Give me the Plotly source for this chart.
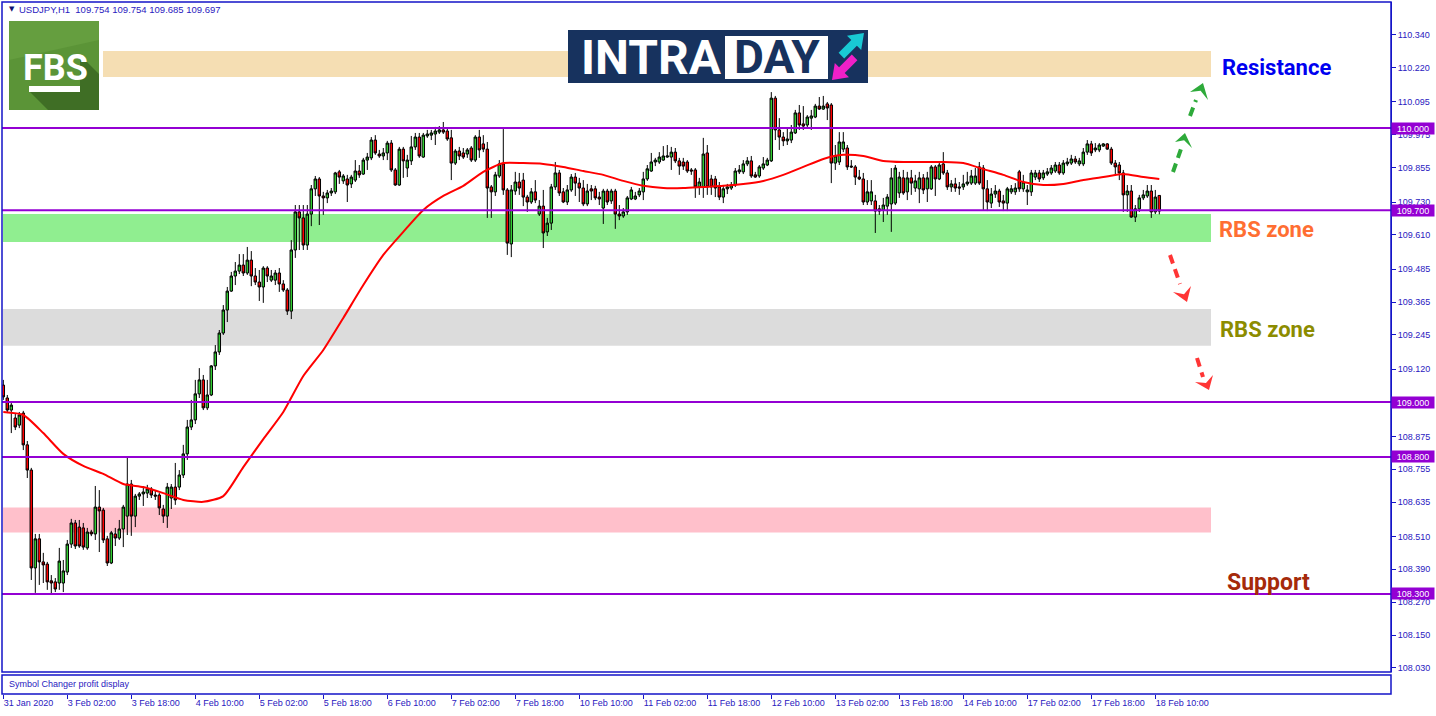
import plotly.graph_objects as go

# ---------------- data (USDJPY H1) ----------------
opens = [109.062, 109.015, 108.971, 108.942, 108.916, 108.960, 108.844, 108.752, 108.395, 108.501,
 108.417, 108.409, 108.348, 108.344, 108.340, 108.340, 108.380, 108.482, 108.559, 108.544,
 108.541, 108.468, 108.526, 108.519, 108.617, 108.606, 108.501, 108.413, 108.519, 108.504,
 108.537, 108.584, 108.701, 108.584, 108.657, 108.665, 108.668, 108.683, 108.661, 108.661,
 108.610, 108.584, 108.650, 108.690, 108.690, 108.734, 108.811, 108.909, 108.935, 109.030,
 109.081, 108.979, 109.026, 109.132, 109.183, 109.252, 109.336, 109.405, 109.460, 109.478,
 109.500, 109.471, 109.518, 109.460, 109.438, 109.420, 109.489, 109.445, 109.445, 109.471,
 109.431, 109.409, 109.332, 109.555, 109.694, 109.672, 109.573, 109.686, 109.778, 109.814,
 109.752, 109.745, 109.763, 109.767, 109.840, 109.807, 109.814, 109.796, 109.810, 109.843,
 109.832, 109.883, 109.891, 109.956, 109.905, 109.898, 109.909, 109.945, 109.847, 109.792,
 109.923, 109.854, 109.880, 109.931, 109.967, 109.894, 109.971, 109.974, 109.978, 109.985,
 109.993, 109.989, 109.964, 109.872, 109.916, 109.909, 109.905, 109.927, 109.883, 109.967,
 109.942, 109.923, 109.785, 109.767, 109.825, 109.869, 109.774, 109.577, 109.770, 109.803,
 109.810, 109.748, 109.730, 109.767, 109.686, 109.715, 109.621, 109.653, 109.785, 109.836,
 109.767, 109.730, 109.774, 109.821, 109.799, 109.781, 109.723, 109.778, 109.778, 109.748,
 109.708, 109.770, 109.734, 109.770, 109.686, 109.679, 109.694, 109.741, 109.741, 109.756,
 109.767, 109.814, 109.843, 109.876, 109.876, 109.883, 109.894, 109.894, 109.912, 109.880,
 109.876, 109.876, 109.847, 109.847, 109.785, 109.785, 109.909, 109.814, 109.814, 109.785,
 109.748, 109.778, 109.781, 109.792, 109.840, 109.840, 109.869, 109.880, 109.829, 109.825,
 109.854, 109.865, 109.880, 110.109, 109.993, 109.967, 109.953, 109.956, 109.982, 110.055,
 110.015, 110.011, 110.036, 110.040, 110.080, 110.069, 110.088, 110.084, 109.872, 109.876,
 109.923, 109.927, 109.861, 109.858, 109.821, 109.814, 109.730, 109.734, 109.734, 109.705,
 109.701, 109.715, 109.723, 109.726, 109.763, 109.818, 109.767, 109.818, 109.781, 109.778,
 109.818, 109.778, 109.778, 109.858, 109.814, 109.869, 109.836, 109.785, 109.796, 109.785,
 109.785, 109.796, 109.799, 109.799, 109.858, 109.854, 109.778, 109.726, 109.759, 109.770,
 109.734, 109.726, 109.767, 109.767, 109.840, 109.778, 109.767, 109.767, 109.821, 109.836,
 109.818, 109.832, 109.836, 109.843, 109.865, 109.836, 109.869, 109.872, 109.887, 109.869,
 109.869, 109.912, 109.942, 109.920, 109.920, 109.934, 109.942, 109.923, 109.872, 109.865,
 109.836, 109.756, 109.770, 109.675, 109.705, 109.745, 109.752, 109.770, 109.694, 109.754]

highs = [109.081, 109.026, 108.997, 108.960, 108.964, 108.968, 108.858, 108.760, 108.519, 108.519,
 108.450, 108.417, 108.369, 108.358, 108.468, 108.424, 108.497, 108.574, 108.570, 108.570,
 108.559, 108.541, 108.534, 108.694, 108.679, 108.614, 108.512, 108.530, 108.541, 108.570,
 108.625, 108.796, 108.716, 108.665, 108.672, 108.690, 108.698, 108.690, 108.679, 108.668,
 108.625, 108.705, 108.701, 108.778, 108.752, 108.844, 108.935, 109.008, 109.081, 109.124,
 109.099, 109.081, 109.135, 109.208, 109.263, 109.354, 109.420, 109.475, 109.511, 109.540,
 109.540, 109.566, 109.551, 109.489, 109.482, 109.496, 109.496, 109.482, 109.482, 109.489,
 109.445, 109.416, 109.591, 109.719, 109.719, 109.719, 109.719, 109.792, 109.825, 109.821,
 109.767, 109.774, 109.781, 109.840, 109.847, 109.832, 109.829, 109.829, 109.883, 109.865,
 109.891, 109.909, 109.967, 109.974, 109.920, 109.927, 109.953, 109.956, 109.854, 109.931,
 109.931, 109.902, 109.971, 109.982, 109.982, 109.982, 109.993, 109.993, 110.004, 110.007,
 110.022, 110.000, 109.993, 109.923, 109.931, 109.927, 109.927, 109.934, 109.974, 109.993,
 109.974, 109.949, 109.792, 109.840, 109.883, 109.996, 109.781, 109.792, 109.840, 109.836,
 109.836, 109.756, 109.781, 109.810, 109.737, 109.774, 109.672, 109.796, 109.876, 109.847,
 109.781, 109.792, 109.832, 109.836, 109.818, 109.810, 109.796, 109.792, 109.789, 109.767,
 109.778, 109.778, 109.778, 109.778, 109.719, 109.708, 109.752, 109.785, 109.767, 109.781,
 109.840, 109.865, 109.909, 109.891, 109.912, 109.934, 109.938, 109.931, 109.927, 109.891,
 109.891, 109.883, 109.854, 109.854, 109.818, 109.964, 109.938, 109.829, 109.825, 109.803,
 109.792, 109.796, 109.803, 109.854, 109.865, 109.883, 109.894, 109.898, 109.840, 109.865,
 109.894, 109.891, 110.131, 110.117, 110.036, 109.985, 110.000, 110.011, 110.066, 110.084,
 110.080, 110.047, 110.066, 110.088, 110.113, 110.117, 110.095, 110.091, 109.938, 109.985,
 109.985, 109.938, 109.883, 109.865, 109.847, 109.836, 109.810, 109.810, 109.756, 109.719,
 109.745, 109.759, 109.854, 109.865, 109.840, 109.847, 109.840, 109.847, 109.829, 109.840,
 109.832, 109.840, 109.865, 109.865, 109.876, 109.912, 109.847, 109.810, 109.818, 109.803,
 109.829, 109.840, 109.847, 109.854, 109.876, 109.865, 109.810, 109.781, 109.792, 109.778,
 109.756, 109.785, 109.792, 109.799, 109.847, 109.829, 109.792, 109.847, 109.847, 109.847,
 109.847, 109.854, 109.865, 109.876, 109.876, 109.883, 109.891, 109.902, 109.898, 109.891,
 109.927, 109.956, 109.953, 109.945, 109.945, 109.945, 109.945, 109.931, 109.883, 109.876,
 109.847, 109.792, 109.792, 109.719, 109.756, 109.774, 109.792, 109.792, 109.774, 109.754]

lows = [109.008, 108.960, 108.887, 108.898, 108.905, 108.825, 108.723, 108.351, 108.304, 108.333,
 108.340, 108.315, 108.300, 108.307, 108.315, 108.307, 108.369, 108.468, 108.464, 108.468,
 108.461, 108.461, 108.511, 108.497, 108.453, 108.486, 108.402, 108.409, 108.475, 108.497,
 108.471, 108.515, 108.512, 108.544, 108.643, 108.621, 108.650, 108.650, 108.643, 108.588,
 108.559, 108.541, 108.610, 108.625, 108.679, 108.723, 108.789, 108.898, 108.920, 109.015,
 108.971, 108.971, 109.022, 109.117, 109.172, 109.245, 109.292, 109.402, 109.427, 109.467,
 109.460, 109.464, 109.423, 109.427, 109.369, 109.362, 109.438, 109.438, 109.427, 109.402,
 109.402, 109.318, 109.303, 109.526, 109.555, 109.555, 109.555, 109.642, 109.752, 109.646,
 109.683, 109.726, 109.752, 109.759, 109.796, 109.796, 109.730, 109.781, 109.803, 109.818,
 109.829, 109.847, 109.883, 109.902, 109.891, 109.883, 109.883, 109.840, 109.789, 109.789,
 109.818, 109.821, 109.865, 109.920, 109.891, 109.891, 109.964, 109.956, 109.938, 109.978,
 109.978, 109.953, 109.810, 109.865, 109.883, 109.887, 109.891, 109.876, 109.876, 109.891,
 109.912, 109.672, 109.672, 109.752, 109.818, 109.756, 109.537, 109.529, 109.756, 109.756,
 109.715, 109.694, 109.723, 109.726, 109.679, 109.562, 109.606, 109.628, 109.774, 109.752,
 109.726, 109.719, 109.767, 109.752, 109.730, 109.715, 109.715, 109.737, 109.737, 109.719,
 109.650, 109.719, 109.723, 109.632, 109.664, 109.672, 109.683, 109.737, 109.737, 109.748,
 109.737, 109.807, 109.840, 109.861, 109.869, 109.880, 109.891, 109.847, 109.872, 109.829,
 109.847, 109.836, 109.829, 109.745, 109.756, 109.745, 109.756, 109.756, 109.748, 109.737,
 109.726, 109.759, 109.774, 109.785, 109.832, 109.832, 109.861, 109.818, 109.818, 109.818,
 109.847, 109.861, 109.876, 109.956, 109.920, 109.934, 109.938, 109.945, 109.978, 109.993,
 109.993, 110.000, 109.993, 110.036, 110.066, 110.066, 110.029, 109.799, 109.847, 109.865,
 109.912, 109.847, 109.854, 109.792, 109.810, 109.719, 109.719, 109.719, 109.617, 109.683,
 109.657, 109.683, 109.621, 109.719, 109.745, 109.756, 109.737, 109.756, 109.767, 109.726,
 109.759, 109.730, 109.774, 109.752, 109.810, 109.829, 109.774, 109.767, 109.767, 109.756,
 109.774, 109.789, 109.792, 109.792, 109.792, 109.701, 109.697, 109.708, 109.745, 109.712,
 109.697, 109.697, 109.759, 109.756, 109.767, 109.767, 109.719, 109.752, 109.810, 109.803,
 109.810, 109.825, 109.829, 109.836, 109.829, 109.829, 109.861, 109.865, 109.869, 109.861,
 109.861, 109.902, 109.898, 109.912, 109.912, 109.931, 109.920, 109.865, 109.829, 109.810,
 109.694, 109.694, 109.672, 109.657, 109.694, 109.737, 109.745, 109.672, 109.686, 109.685]

closes = [109.019, 108.971, 108.989, 108.909, 108.953, 108.844, 108.752, 108.395, 108.501, 108.417,
 108.406, 108.344, 108.340, 108.318, 108.420, 108.384, 108.482, 108.559, 108.475, 108.475,
 108.471, 108.526, 108.519, 108.617, 108.603, 108.497, 108.413, 108.523, 108.504, 108.537,
 108.617, 108.701, 108.584, 108.657, 108.665, 108.672, 108.683, 108.661, 108.657, 108.614,
 108.584, 108.690, 108.690, 108.643, 108.734, 108.811, 108.909, 108.935, 109.030, 109.081,
 108.979, 109.026, 109.132, 109.183, 109.252, 109.336, 109.405, 109.460, 109.478, 109.500,
 109.471, 109.518, 109.460, 109.438, 109.420, 109.489, 109.460, 109.460, 109.471, 109.431,
 109.409, 109.332, 109.555, 109.694, 109.672, 109.573, 109.686, 109.778, 109.814, 109.752,
 109.745, 109.763, 109.770, 109.836, 109.821, 109.825, 109.792, 109.821, 109.843, 109.829,
 109.883, 109.894, 109.956, 109.909, 109.898, 109.909, 109.945, 109.847, 109.792, 109.923,
 109.880, 109.883, 109.931, 109.967, 109.898, 109.974, 109.978, 109.982, 109.989, 109.993,
 109.985, 109.960, 109.872, 109.916, 109.898, 109.894, 109.920, 109.883, 109.967, 109.920,
 109.923, 109.781, 109.767, 109.829, 109.869, 109.774, 109.580, 109.774, 109.803, 109.781,
 109.748, 109.730, 109.767, 109.737, 109.715, 109.617, 109.653, 109.785, 109.836, 109.763,
 109.730, 109.774, 109.821, 109.799, 109.781, 109.723, 109.770, 109.770, 109.745, 109.741,
 109.770, 109.730, 109.770, 109.686, 109.679, 109.694, 109.745, 109.774, 109.752, 109.770,
 109.814, 109.851, 109.876, 109.883, 109.894, 109.898, 109.898, 109.912, 109.880, 109.861,
 109.861, 109.843, 109.843, 109.785, 109.803, 109.905, 109.785, 109.785, 109.781, 109.748,
 109.778, 109.785, 109.792, 109.843, 109.847, 109.869, 109.880, 109.825, 109.821, 109.858,
 109.869, 109.883, 110.109, 109.993, 109.967, 109.953, 109.960, 109.985, 110.055, 110.011,
 110.007, 110.040, 110.044, 110.080, 110.069, 110.080, 110.073, 109.872, 109.898, 109.949,
 109.949, 109.858, 109.858, 109.821, 109.814, 109.730, 109.767, 109.767, 109.697, 109.697,
 109.719, 109.748, 109.818, 109.854, 109.821, 109.763, 109.818, 109.799, 109.807, 109.818,
 109.774, 109.818, 109.858, 109.814, 109.865, 109.836, 109.785, 109.796, 109.781, 109.781,
 109.796, 109.803, 109.825, 109.825, 109.799, 109.778, 109.730, 109.759, 109.770, 109.730,
 109.726, 109.778, 109.778, 109.781, 109.778, 109.803, 109.774, 109.836, 109.836, 109.814,
 109.836, 109.840, 109.854, 109.865, 109.836, 109.872, 109.876, 109.887, 109.876, 109.880,
 109.912, 109.942, 109.909, 109.927, 109.938, 109.942, 109.923, 109.872, 109.858, 109.836,
 109.756, 109.770, 109.675, 109.705, 109.745, 109.756, 109.770, 109.694, 109.748, 109.697]

# moving average read every 5 bars
ma_bar = list(range(0, 290, 5)) + [289]
ma_vals = [108.964, 108.953, 108.887, 108.811, 108.767, 108.738, 108.701, 108.690, 108.668, 108.643,
 108.636, 108.657, 108.763, 108.865, 108.964, 109.095, 109.190, 109.307, 109.427, 109.537,
 109.621, 109.701, 109.752, 109.789, 109.840, 109.872, 109.872, 109.869, 109.858, 109.843,
 109.829, 109.807, 109.789, 109.781, 109.781, 109.785, 109.789, 109.796, 109.807, 109.829,
 109.858, 109.887, 109.902, 109.898, 109.880, 109.876, 109.876, 109.876, 109.872, 109.850,
 109.829, 109.803, 109.792, 109.796, 109.810, 109.821, 109.832, 109.821, 109.814]

time_labels = ["31 Jan 2020", "3 Feb 02:00", "3 Feb 18:00", "4 Feb 10:00", "5 Feb 02:00",
 "5 Feb 18:00", "6 Feb 10:00", "7 Feb 02:00", "7 Feb 18:00", "10 Feb 10:00", "11 Feb 02:00",
 "11 Feb 18:00", "12 Feb 10:00", "13 Feb 02:00", "13 Feb 18:00", "14 Feb 10:00",
 "17 Feb 02:00", "17 Feb 18:00", "18 Feb 10:00"]
bars_per_label = 16

price_ticks = [110.340, 110.220, 110.095, 109.975, 109.855, 109.730, 109.610, 109.485, 109.365,
 109.245, 109.120, 108.875, 108.755, 108.635, 108.510, 108.390, 108.270, 108.150, 108.030]

level_lines = [110.000, 109.700, 109.000, 108.800, 108.300]

zone_names = ["Resistance", "RBS zone", "RBS zone", "Support"]
zone_low = [110.186, 109.584, 109.206, 108.524]
zone_high = [110.281, 109.686, 109.340, 108.615]

header_text = "USDJPY,H1\u00a0\u00a0109.754 109.754 109.685 109.697"

# ---------------- layout helpers (pixel -> paper) ----------------
W, H = 1436, 716
ML, MR, MT, MB = 2, 45, 2, 22
PW, PH = W - ML - MR, H - MT - MB


def px(x):
    return (x - ML) / PW


def py(y):
    return (H - MB - y) / PH


def bx(x):  # pixel x -> bar index
    return (x - 3.3) / 4.0


BLUE = "#1515C8"
PURPLE = "#9400D3"
TXT = "#2A20C0"

bars = list(range(len(closes)))

fig = go.Figure()
fig.add_trace(go.Candlestick(
    x=bars, open=opens, high=highs, low=lows, close=closes,
    increasing=dict(fillcolor="#32CD32", line=dict(color="black", width=1)),
    decreasing=dict(fillcolor="#FF0000", line=dict(color="black", width=1)),
    whiskerwidth=0, showlegend=False, hoverinfo="skip"))
fig.add_trace(go.Scatter(
    x=ma_bar, y=ma_vals, mode="lines",
    line=dict(color="#FF0000", width=2, shape="spline", smoothing=0.6),
    showlegend=False, hoverinfo="skip"))

shapes = []
zone_fill = ["#F5DEB3", "#90EE90", "#DCDCDC", "#FFC0CB"]
zone_x0 = [bx(103), bx(3), bx(3), bx(3)]
for lo, hi, c, x0 in zip(zone_low, zone_high, zone_fill, zone_x0):
    shapes.append(dict(type="rect", xref="x", yref="y", x0=x0, x1=bx(1211), y0=lo, y1=hi,
                       fillcolor=c, line=dict(width=0), layer="below"))
for lv in level_lines:
    shapes.append(dict(type="line", xref="paper", yref="y", x0=0, x1=1, y0=lv, y1=lv,
                       line=dict(color=PURPLE, width=2)))

# frames
main_bottom = py(672)
shapes.append(dict(type="rect", xref="paper", yref="paper", x0=0, x1=1, y0=main_bottom, y1=1,
                   line=dict(color=BLUE, width=1.5)))
shapes.append(dict(type="rect", xref="paper", yref="paper", x0=0, x1=1, y0=0, y1=py(675),
                   line=dict(color=BLUE, width=1.5)))


def poly(points, color):
    path = "M " + " L ".join(f"{px(a):.5f},{py(b):.5f}" for a, b in points) + " Z"
    return dict(type="path", xref="paper", yref="paper", path=path,
                fillcolor=color, line=dict(width=0))


def rect(x0, y0, x1, y1, color):
    return dict(type="rect", xref="paper", yref="paper", x0=px(x0), x1=px(x1),
                y0=py(y1), y1=py(y0), fillcolor=color, line=dict(width=0))


# FBS logo
shapes.append(rect(9, 21, 99, 110, "#5B9437"))
shapes.append(poly([(9, 21), (99, 21), (99, 40), (9, 60)], "#659E3F"))
shapes.append(poly([(30, 92), (80, 92), (80, 55), (99, 74), (99, 110), (48, 110)], "#3F6E25"))
shapes.append(rect(29, 86, 80, 92, "#FFFFFF"))

# INTRADAY logo
shapes.append(rect(568, 30, 868, 83, "#17325E"))
shapes.append(rect(725, 36, 828, 79, "#FFFFFF"))
shapes.append(poly([(864, 33), (861.2, 50), (856.9, 45.7), (844.2, 58.4), (838.6, 52.8),
                    (851.3, 40.1), (847, 35.8)], "#19C9D4"))
shapes.append(poly([(832, 80), (849, 77.2), (844.7, 72.9), (857.4, 60.2), (851.8, 54.6),
                    (839.1, 67.3), (834.8, 63)], "#F020C8"))


# dashed arrows
def dashed_arrow(p0, p1, tip, w1, w2, color):
    out = [dict(type="line", xref="paper", yref="paper", x0=px(p0[0]), y0=py(p0[1]),
                x1=px(p1[0]), y1=py(p1[1]), line=dict(color=color, width=4, dash="9px,6px"))]
    base = ((w1[0] + w2[0]) / 2, (w1[1] + w2[1]) / 2)
    notch = (tip[0] + 0.6 * (base[0] - tip[0]), tip[1] + 0.6 * (base[1] - tip[1]))
    out.append(poly([tip, w1, notch, w2], color))
    return out


GREEN_A = "#2EAA3A"
RED_A = "#FF3535"
shapes += dashed_arrow((1173, 172), (1182, 146), (1185, 133), (1175, 142), (1192, 148), GREEN_A)
shapes += dashed_arrow((1190, 116), (1196, 100), (1203, 83), (1190, 92), (1208, 100), GREEN_A)
shapes += dashed_arrow((1170, 255), (1180, 284), (1187, 302), (1173, 292), (1191, 286), RED_A)
shapes += dashed_arrow((1197, 358), (1203, 377), (1209, 390), (1195, 382), (1213, 375), RED_A)

annotations = []
annotations.append(dict(xref="paper", yref="paper", x=px(7), y=py(9), text="\u25bc",
                        showarrow=False, xanchor="left", yanchor="middle",
                        font=dict(family="DejaVu Sans", size=7, color="#101070")))
annotations.append(dict(xref="paper", yref="paper", x=px(17), y=py(9), text=header_text,
                        showarrow=False, xanchor="left", yanchor="middle",
                        font=dict(family="Liberation Sans", size=9.5, color=TXT)))
annotations.append(dict(xref="paper", yref="paper", x=px(7), y=py(684),
                        text="Symbol Changer profit display", showarrow=False,
                        xanchor="left", yanchor="middle",
                        font=dict(family="Liberation Sans", size=9, color=TXT)))
for lv in level_lines:
    annotations.append(dict(xref="paper", yref="y", x=1, y=lv, text=f"{lv:.3f}",
                            showarrow=False, xanchor="left", yanchor="middle",
                            bgcolor=PURPLE, width=42, height=11, borderpad=0,
                            font=dict(family="Liberation Sans", size=9, color="white")))

label_colors = ["#0000F0", "#FF6E32", "#8C8C00", "#A52A0A"]
label_pos = [(1220, 67), (1217, 229), (1218, 329), (1225, 582)]
label_size = [22, 22, 22, 23]
for name, c, (lx, ly), s in zip(zone_names, label_colors, label_pos, label_size):
    annotations.append(dict(xref="paper", yref="paper", x=px(lx), y=py(ly),
                            text=f"<b>{name}</b>", showarrow=False, xanchor="left",
                            yanchor="middle", font=dict(family="Roboto", size=s, color=c)))

annotations.append(dict(xref="paper", yref="paper", x=px(55), y=py(68), text="<b>FBS</b>",
                        showarrow=False, xanchor="center", yanchor="middle",
                        font=dict(family="Roboto", size=36, color="white")))
annotations.append(dict(xref="paper", yref="paper", x=px(651), y=py(57), text="<b>INTRA</b>",
                        showarrow=False, xanchor="center", yanchor="middle",
                        font=dict(family="Roboto", size=48, color="white")))
annotations.append(dict(xref="paper", yref="paper", x=px(777), y=py(57), text="<b>DAY</b>",
                        showarrow=False, xanchor="center", yanchor="middle",
                        font=dict(family="Roboto", size=46, color="#17325E")))

fig.update_layout(
    width=W, height=H,
    margin=dict(l=ML, r=MR, t=MT, b=MB),
    paper_bgcolor="white", plot_bgcolor="white",
    showlegend=False, boxgap=0.12,
    shapes=shapes, annotations=annotations,
    xaxis=dict(range=[bx(2), bx(1391)], anchor="free", position=0,
               rangeslider=dict(visible=False), showgrid=False, zeroline=False,
               showline=False, ticks="outside", ticklen=4, tickcolor=BLUE,
               tickvals=[k * bars_per_label for k in range(len(time_labels))],
               ticktext=time_labels, ticklabelposition="outside right",
               tickfont=dict(family="Liberation Sans", size=9, color=TXT)),
    yaxis=dict(range=[108.0153, 110.4597], domain=[main_bottom, 1], side="right",
               anchor="x", showgrid=False, zeroline=False, showline=True, linecolor=BLUE,
               ticks="outside", ticklen=4, tickcolor=BLUE,
               tickvals=price_ticks, ticktext=[f"{v:.3f}" for v in price_ticks],
               tickfont=dict(family="Liberation Sans", size=9, color=TXT)),
)

fig.write_html("out.html", config={"displayModeBar": False},
               post_script="document.body.style.margin='0px';")
